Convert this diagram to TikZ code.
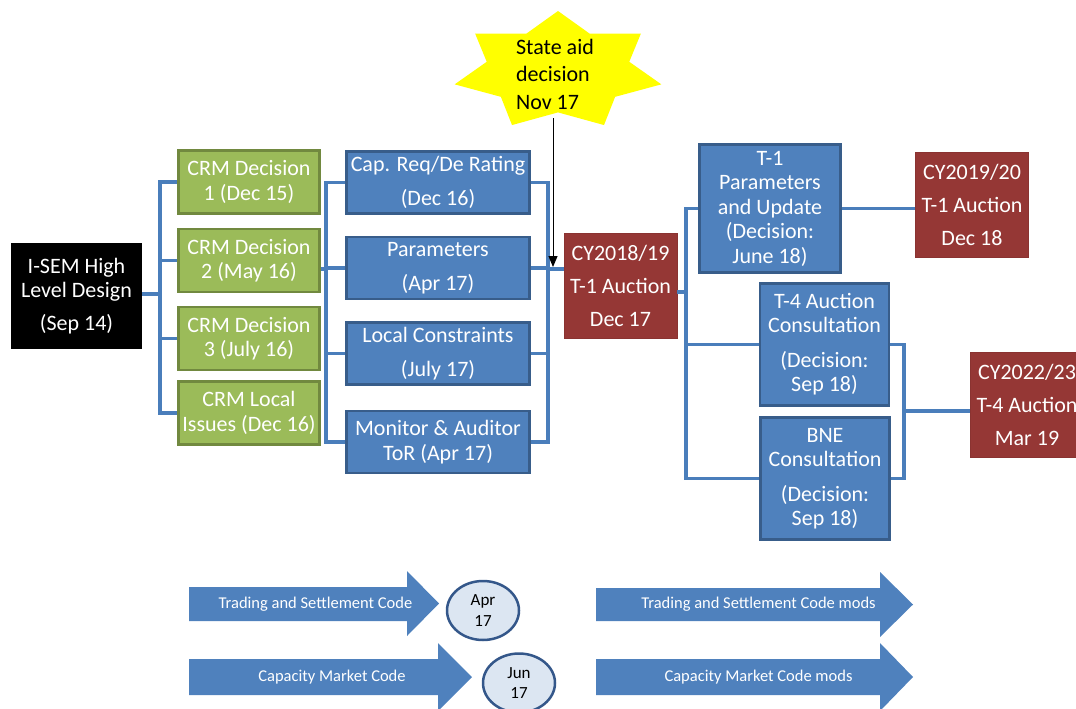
\documentclass[tikz,border=0pt]{standalone}
\usepackage{fontspec}
\setmainfont{Carlito}
\usepackage{xcolor}
\usetikzlibrary{shapes.geometric}
\usetikzlibrary{arrows.meta}
\definecolor{crmgreen}{HTML}{9BBB59}
\definecolor{crmgreenline}{HTML}{71893F}
\definecolor{semblue}{HTML}{4F81BD}
\definecolor{semblueline}{HTML}{385D8A}
\definecolor{semlink}{HTML}{4A7EBB}
\definecolor{auctionred}{HTML}{953735}
\definecolor{auctionredline}{HTML}{8A3331}
\definecolor{bubblefill}{HTML}{DCE6F2}
\definecolor{bubbleline}{HTML}{34578A}
\definecolor{aidyellow}{HTML}{FFFF00}

\begin{document}
\begin{tikzpicture}[x=1pt,y=-1pt,
      every node/.style={inner sep=0pt},
      box/.style={rectangle,draw,line width=2.5pt,text=white,align=center,
        font=\fontsize{22}{24.5}\selectfont},
      greenbox/.style={box,fill=crmgreen,draw=crmgreenline,
        minimum width=141pt,minimum height=63pt},
      bluebox/.style={box,fill=semblue,draw=semblueline},
      auctionbox/.style={box,fill=auctionred,draw=auctionredline,line width=0.8pt,
        minimum width=113pt,minimum height=105pt},
      link/.style={semlink,line width=3.3pt},
      codelabel/.style={text=white,font=\fontsize{16.5}{19}\selectfont},
      datebubble/.style={ellipse,draw=bubbleline,fill=bubblefill,line width=2.5pt,
        minimum width=72pt,minimum height=59pt,align=center,
        font=\fontsize{17}{20.5}\selectfont},
      aid/.style={align=left,text=black,font=\fontsize{22}{27.5}\selectfont}]

      \useasboundingbox (0,0) rectangle (1076,709);
      \clip (0,0) rectangle (1076,709);

      % state aid star
      \fill[aidyellow,shift={(558,71)}] (-90:106 and 60)
        \foreach \k [evaluate=\k as \rx using {106-32.9*mod(\k,2)},
                     evaluate=\k as \ry using {60-18.6*mod(\k,2)}] in {1,...,13} {
          -- ({-90+\k*360/14}:{\rx} and {\ry})} -- cycle;
      \node[aid] (aid) at (555,74) {State aid\\decision\\Nov 17};

      % decisions
      \node[box,fill=black,draw=black,line width=1pt,
        minimum width=130pt,minimum height=105pt] (isem) at (76.5,296)
        {I-SEM High\\Level Design\\[8pt](Sep 14)};
      \node[greenbox] (crm1) at (249,182) {CRM Decision\\1 (Dec 15)};
      \node[greenbox] (crm2) at (249,260.5) {CRM Decision\\2 (May 16)};
      \node[greenbox] (crm3) at (249,338.5) {CRM Decision\\3 (July 16)};
      \node[greenbox] (crm4) at (249,413) {CRM Local\\Issues (Dec 16)};

      \node[bluebox,minimum width=183pt,minimum height=62pt] (capreq) at (438,182.5)
        {Cap. Req/De Rating\\[10pt](Dec 16)};
      \node[bluebox,minimum width=183pt,minimum height=62pt] (params) at (438,268)
        {Parameters\\[10pt](Apr 17)};
      \node[bluebox,minimum width=183pt,minimum height=62pt] (local) at (438,353.7)
        {Local Constraints\\[10pt](July 17)};
      \node[bluebox,minimum width=183pt,minimum height=62pt] (monitor) at (438,442)
        {Monitor \& Auditor\\ToR (Apr 17)};

      % auctions
      \node[auctionbox] (t1dec17) at (620.5,285.5) {CY2018/19\\[8.5pt]T-1 Auction\\[8.5pt]Dec 17};
      \node[bluebox,minimum width=141pt,minimum height=128pt] (t1param) at (770,208.5)
        {T-1\\Parameters\\and Update\\(Decision:\\June 18)};
      \node[auctionbox] (t1dec18) at (972,205) {CY2019/20\\[8.5pt]T-1 Auction\\[8.5pt]Dec 18};
      \node[bluebox,minimum width=129pt,minimum height=122pt] (t4consult) at (824.5,344.3)
        {T-4 Auction\\Consultation\\[10pt](Decision:\\Sep 18)};
      \node[bluebox,minimum width=129pt,minimum height=122pt] (bne) at (825,478.5)
        {BNE\\Consultation\\[10pt](Decision:\\Sep 18)};
      \node[auctionbox] (t4mar19) at (1027,405) {CY2022/23\\[8.5pt]T-4 Auction\\[8.5pt]Mar 19};

      % connectors
      \coordinate (isemfork) at (160,294);
      \draw[link] (isem.east |- isemfork) -- (isemfork);
      \foreach \n in {crm1,crm2,crm3,crm4}
        \draw[link] (isemfork) |- (\n.west);

      \coordinate (crmfork) at (326,269);
      \draw[link] (crm2.east |- crmfork) -- (crmfork);
      \foreach \n in {capreq,params,local,monitor}
        \draw[link] (crmfork) |- (\n.west);

      \coordinate (paramfork) at (548,269);
      \foreach \n in {capreq,params,local,monitor}
        \draw[link] (\n.east) -| (paramfork);
      \draw[link] (paramfork) -- (paramfork -| t1dec17.west);

      \coordinate (aidtip) at (553,118);
      \draw[line width=1pt,-{Triangle[length=11pt,width=9pt]},shorten >=2pt]
        (aidtip) -- (aidtip |- paramfork);

      \coordinate (t1fork) at (686,292);
      \draw[link] (t1dec17.east |- t1fork) -- (t1fork);
      \foreach \n in {t1param,t4consult,bne}
        \draw[link] (t1fork) |- (\n.west);
      \draw[link] (t1param.east) -- (t1param.east -| t1dec18.west);

      \coordinate (t4fork) at (904,411);
      \foreach \n in {t4consult,bne}
        \draw[link] (\n.east) -| (t4fork);
      \draw[link] (t4fork) -- (t4fork -| t4mar19.west);

      % code arrows
      \fill[semblue] (189,587) -- (407,587) -- (407,571) -- (439,603.5)
        -- (407,636) -- (407,621) -- (189,621) -- cycle;
      \node[codelabel] (tsc) at (315.5,604) {Trading and Settlement Code};
      \fill[semblue] (189,659) -- (438,659) -- (438,643) -- (472,677)
        -- (438,711) -- (438,695) -- (189,695) -- cycle;
      \node[codelabel] (cmc) at (332,677) {Capacity Market Code};
      \fill[semblue] (596,588) -- (880,588) -- (880,572) -- (913,604.5)
        -- (880,637) -- (880,621) -- (596,621) -- cycle;
      \node[codelabel] (tscmods) at (758.5,604.5) {Trading and Settlement Code mods};
      \fill[semblue] (596,659) -- (880,659) -- (880,643) -- (913,677)
        -- (880,711) -- (880,695) -- (596,695) -- cycle;
      \node[codelabel] (cmcmods) at (758.5,677) {Capacity Market Code mods};

      \node[datebubble] (apr) at (483,610.5) {Apr\\17};
      \node[datebubble] (jun) at (519,683) {Jun\\17};
    \end{tikzpicture}
\end{document}
